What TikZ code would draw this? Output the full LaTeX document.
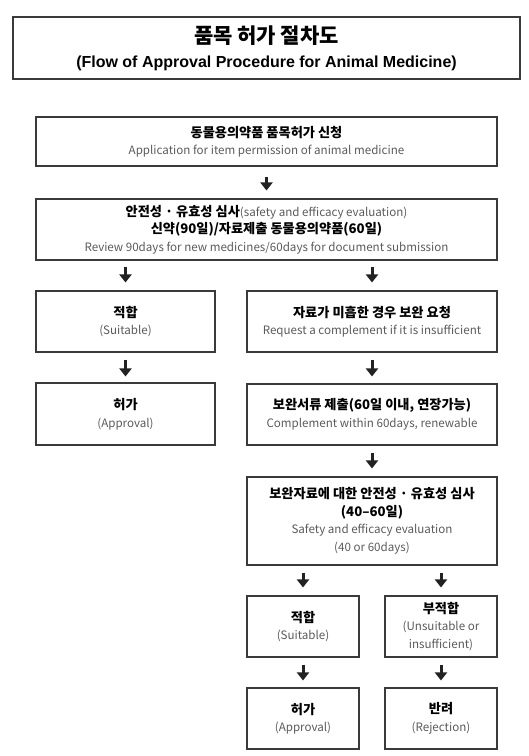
\documentclass[tikz,border=0pt]{standalone}
\usepackage{fontspec}
\usetikzlibrary{arrows.meta}
\newfontfamily\kr{Noto Sans CJK KR}
\newfontfamily\arialbold{Liberation Sans}
\definecolor{entext}{HTML}{5A5A5A}
\definecolor{boxline}{HTML}{3A3A3A}
\definecolor{arrowcol}{HTML}{222222}
\newcommand{\ko}[1]{{\kr\bfseries\fontsize{13.2}{17.5}\selectfont #1}}
\newcommand{\en}[1]{{\kr\color{entext}\fontsize{11.6}{17.5}\selectfont #1}}
\tikzset{
  stepbox/.style={draw=boxline, line width=1.1pt, rectangle, align=center, inner sep=0pt,
    font=\fontsize{12}{17.5}\selectfont},
  titlebox/.style={draw=boxline, line width=1.3pt, rectangle, align=center, inner sep=0pt,
    font=\fontsize{14}{24}\selectfont},
  flowarrow/.style={draw=arrowcol, line width=3pt, -{Triangle[width=12pt,length=8pt]}}
}
\begin{document}
\begin{tikzpicture}[x=1pt,y=-1pt]
\useasboundingbox (0,0) rectangle (529,756);
% title
\node[titlebox, minimum width=507pt, minimum height=62pt] (title) at (266.5,48)
  {\rule{0pt}{6pt}{\kr\bfseries\fontsize{21}{24}\selectfont 품목 허가 절차도}\\
   {\arialbold\bfseries\fontsize{16}{24}\selectfont (Flow of Approval Procedure for Animal Medicine)}};
% boxes
\node[stepbox, minimum width=461pt, minimum height=49pt] (apply) at (266.5,141.5)
  {\ko{동물용의약품 품목허가 신청}\\\en{Application for item permission of animal medicine}};
\node[stepbox, minimum width=461pt, minimum height=61pt] (review) at (266.5,229.5)
  {\ko{안전성 · 유효성 심사}\en{(safety and efficacy evaluation)}\\
   \ko{신약(90일)/자료제출 동물용의약품(60일)}\\
   \en{Review 90days for new medicines/60days for document submission}};
\node[stepbox, minimum width=179pt, minimum height=61pt] (suit1) at (125.5,321.5)
  {\ko{적합}\\\en{(Suitable)}};
\node[stepbox, minimum width=250pt, minimum height=61pt] (request) at (372,321.5)
  {\ko{자료가 미흡한 경우 보완 요청}\\\en{Request a complement if it is insufficient}};
\node[stepbox, minimum width=179pt, minimum height=62pt] (approve1) at (125.5,414)
  {\ko{허가}\\\en{(Approval)}};
\node[stepbox, minimum width=250pt, minimum height=61pt] (submit) at (372,414.5)
  {\ko{보완서류 제출(60일 이내, 연장가능)}\\\en{Complement within 60days, renewable}};
\node[stepbox, minimum width=250pt, minimum height=88pt] (rereview) at (372,521)
  {\ko{보완자료에 대한 안전성 · 유효성 심사}\\\ko{(40–60일)}\\
   \en{Safety and efficacy evaluation}\\\en{(40 or 60days)}};
\node[stepbox, minimum width=112pt, minimum height=61pt] (suit2) at (303,626.5)
  {\ko{적합}\\\en{(Suitable)}};
\node[stepbox, minimum width=112pt, minimum height=61pt] (unsuit) at (441,626.5)
  {\ko{부적합}\\\en{(Unsuitable or}\\\en{insufficient)}};
\node[stepbox, minimum width=112pt, minimum height=61pt] (approve2) at (303,718.5)
  {\ko{허가}\\\en{(Approval)}};
\node[stepbox, minimum width=112pt, minimum height=61pt] (reject) at (441,718.5)
  {\ko{반려}\\\en{(Rejection)}};
% arrows
\draw[flowarrow, shorten <=10pt, shorten >=8pt] (apply.south) -- (review.north);
\draw[flowarrow, shorten <=6pt, shorten >=8pt] (suit1.north |- review.south) -- (suit1.north);
\draw[flowarrow, shorten <=6pt, shorten >=8pt] (request.north |- review.south) -- (request.north);
\draw[flowarrow, shorten <=7pt, shorten >=6pt] (suit1.south) -- (approve1.north);
\draw[flowarrow, shorten <=7pt, shorten >=7pt] (request.south) -- (submit.north);
\draw[flowarrow, shorten <=7pt, shorten >=8pt] (submit.south) -- (rereview.north);
\draw[flowarrow, shorten <=7pt, shorten >=8pt] (suit2.north |- rereview.south) -- (suit2.north);
\draw[flowarrow, shorten <=7pt, shorten >=8pt] (unsuit.north |- rereview.south) -- (unsuit.north);
\draw[flowarrow, shorten <=7pt, shorten >=7pt] (suit2.south) -- (approve2.north);
\draw[flowarrow, shorten <=7pt, shorten >=7pt] (unsuit.south) -- (reject.north);
\end{tikzpicture}
\end{document}
